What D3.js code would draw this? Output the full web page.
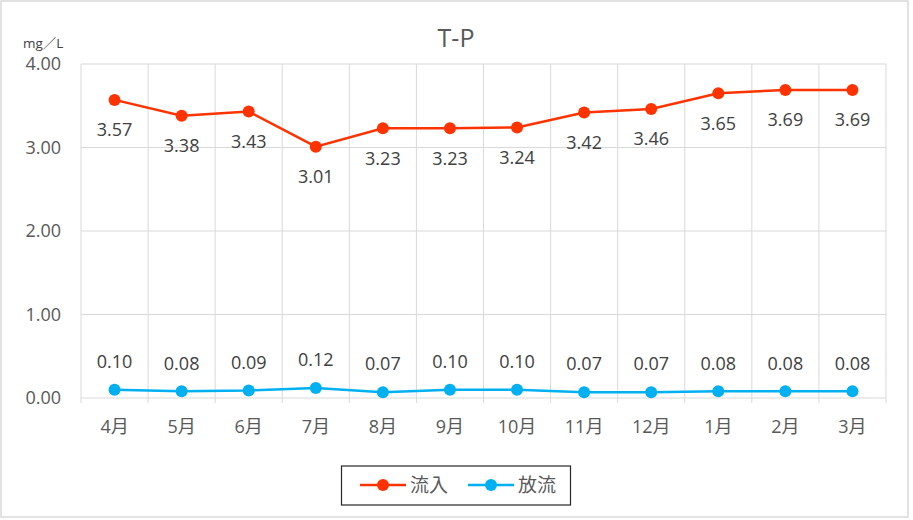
<!DOCTYPE html>
<html><head><meta charset="utf-8">
<script src="https://cdn.jsdelivr.net/npm/d3@7"></script>
<style>
html,body{margin:0;padding:0;background:#fff;}
svg{display:block;font-family:"Open Sans","Noto Sans CJK JP",sans-serif;}
</style></head>
<body><svg id="c" width="913" height="520"></svg>
<script>
const months = ["4月","5月","6月","7月","8月","9月","10月","11月","12月","1月","2月","3月"];
const inflow = [3.57,3.38,3.43,3.01,3.23,3.23,3.24,3.42,3.46,3.65,3.69,3.69];
const outflow = [0.10,0.08,0.09,0.12,0.07,0.10,0.10,0.07,0.07,0.08,0.08,0.08];
const yTicks = [0,1,2,3,4];
const seriesNames = ["流入","放流"];
const colors = ["#FF3300","#00B0F0"];

const svg = d3.select("#c");
svg.append("rect").attr("x",1).attr("y",1).attr("width",907).attr("height",516)
  .attr("fill","#fff").attr("stroke","#d9d9d9").attr("stroke-width",1.5);

const L=81,R=886,T=64,B=398;
const x = d3.scaleBand().domain(months).range([L,R]);
const y = d3.scaleLinear().domain([0,4]).range([B,T]);

svg.append("g").selectAll("line").data(yTicks.filter(d=>d>0)).join("line")
  .attr("x1",L).attr("x2",R).attr("y1",d=>y(d)).attr("y2",d=>y(d))
  .attr("stroke","#d9d9d9").attr("stroke-width",1);
const bounds = months.map(m=>x(m)).concat([R]);
svg.append("g").selectAll("line").data(bounds).join("line")
  .attr("x1",d=>d).attr("x2",d=>d).attr("y1",T).attr("y2",B+5)
  .attr("stroke","#d9d9d9").attr("stroke-width",1);
svg.append("line").attr("x1",L).attr("x2",R).attr("y1",B).attr("y2",B)
  .attr("stroke","#d9d9d9").attr("stroke-width",1.2);

svg.append("g").selectAll("text").data(yTicks).join("text")
  .attr("x",61).attr("y",d=>y(d)).attr("dy","0.35em").attr("text-anchor","end")
  .attr("fill","#595959").attr("font-size",18).text(d=>d3.format(".2f")(d));
svg.append("g").selectAll("text").data(months).join("text")
  .attr("x",d=>x(d)+x.bandwidth()/2).attr("y",427).attr("dy","0.35em").attr("text-anchor","middle")
  .attr("fill","#595959").attr("font-size",18).text(d=>d);

svg.append("text").attr("x",456).attr("y",38).attr("dy","0.35em").attr("text-anchor","middle")
  .attr("fill","#595959").attr("font-size",25).text("T-P");
svg.append("text").attr("x",23).attr("y",43).attr("dy","0.35em")
  .attr("fill","#404040").attr("font-size",13.5).text("mg／L");

const line = d3.line().x((d,i)=>x(months[i])+x.bandwidth()/2).y(d=>y(d));
[inflow,outflow].forEach((s,k)=>{
  const g = svg.append("g");
  g.append("path").datum(s).attr("d",line).attr("fill","none")
    .attr("stroke",colors[k]).attr("stroke-width",2.5);
  g.selectAll("circle").data(s).join("circle")
    .attr("cx",(d,i)=>x(months[i])+x.bandwidth()/2).attr("cy",d=>y(d)).attr("r",6)
    .attr("fill",colors[k]);
  g.selectAll("text").data(s).join("text")
    .attr("x",(d,i)=>x(months[i])+x.bandwidth()/2).attr("y",d=>y(d)+(k===0?30:-28))
    .attr("dy","0.35em").attr("text-anchor","middle")
    .attr("fill","#404040").attr("font-size",18).text(d=>d3.format(".2f")(d));
});

const lg = svg.append("g");
lg.append("rect").attr("x",341.5).attr("y",466).attr("width",229).attr("height",39)
  .attr("fill","#fff").attr("stroke","#262626").attr("stroke-width",1.2);
const lx = [360,468];
seriesNames.forEach((n,k)=>{
  lg.append("line").attr("x1",lx[k]).attr("x2",lx[k]+46).attr("y1",485).attr("y2",485)
    .attr("stroke",colors[k]).attr("stroke-width",2.5);
  lg.append("circle").attr("cx",lx[k]+23).attr("cy",485).attr("r",6).attr("fill",colors[k]);
  lg.append("text").attr("x",lx[k]+50).attr("y",485).attr("dy","0.35em")
    .attr("fill","#595959").attr("font-size",19).text(n);
});
</script></body></html>
